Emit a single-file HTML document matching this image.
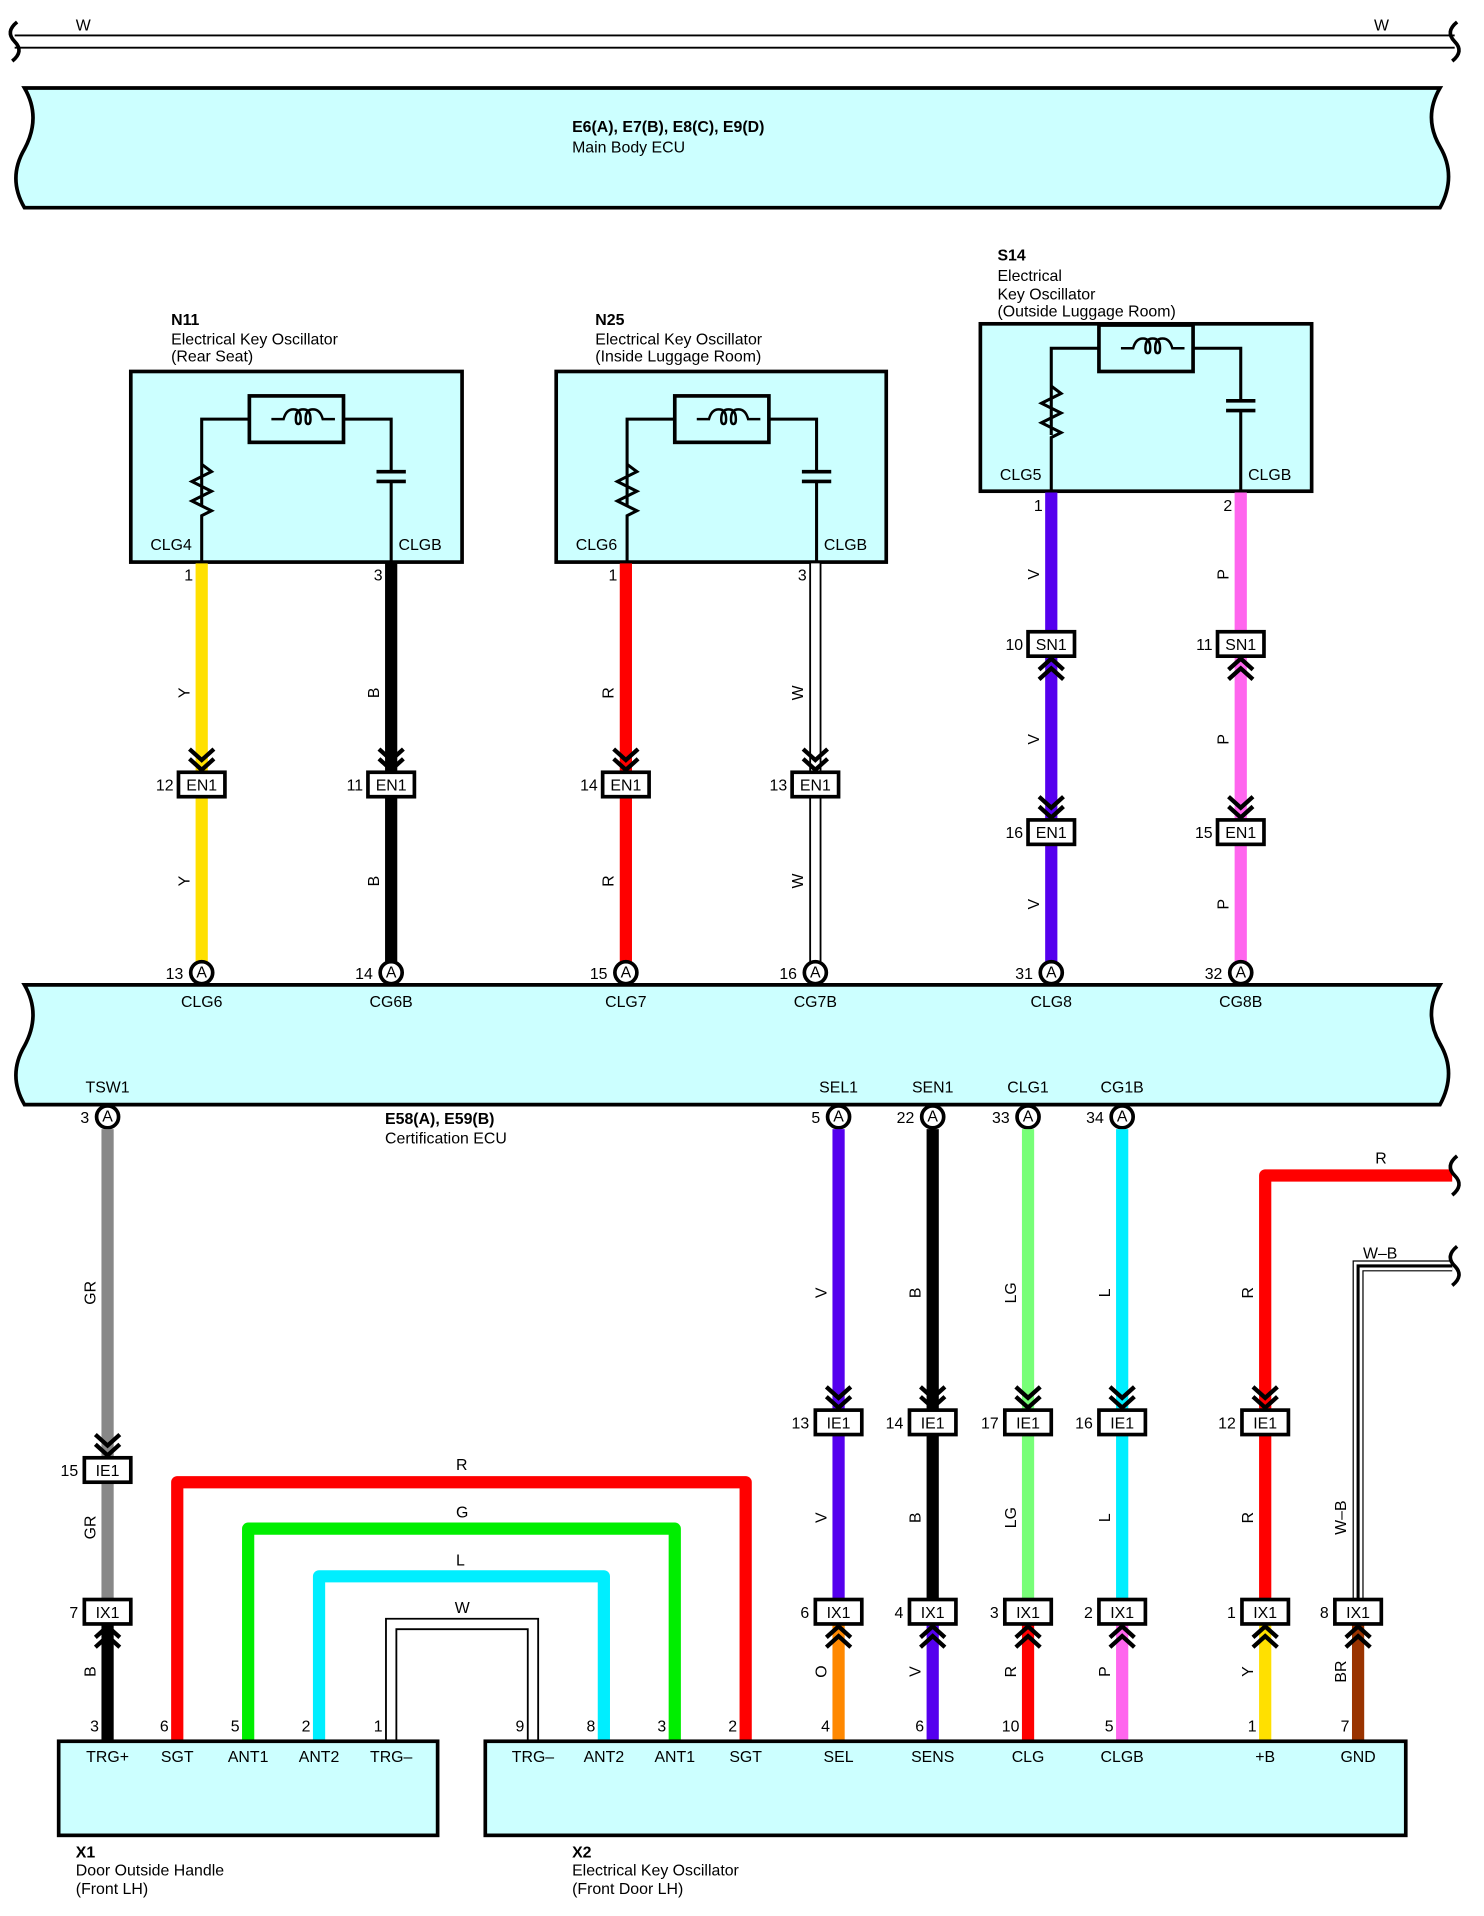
<!DOCTYPE html>
<html><head><meta charset="utf-8"><style>
html,body{margin:0;padding:0;background:#fff;}
svg{display:block;}
text{font-family:"Liberation Sans",sans-serif;font-size:13px;fill:#000;}
.b{font-weight:bold;}
</style></head><body>
<svg width="1484" height="1916" viewBox="0 0 1214 1568" preserveAspectRatio="none" xmlns="http://www.w3.org/2000/svg">
<defs>
<g id="cd" fill="none" stroke="#000" stroke-width="3.5"><polyline points="-10,-18 0,-9 10,-18"/><polyline points="-10,-10 0,-1 10,-10"/></g>
<g id="cu" fill="none" stroke="#000" stroke-width="3.5"><polyline points="-10,18 0,9 10,18"/><polyline points="-10,10 0,1 10,10"/></g>
<g id="osc" fill="none" stroke="#000" stroke-width="2.5">
<polyline points="58,110 58,39 97,39"/><rect x="97" y="20" width="77" height="38" stroke-width="3"/>
<polyline points="174,39 213,39 213,82"/><line x1="213" y1="90" x2="213" y2="156"/>
<line x1="201" y1="82" x2="225" y2="82" stroke-width="3"/><line x1="201" y1="90" x2="225" y2="90" stroke-width="3"/>
<path d="M115,39 h10 q2,-8 8,-8 q6,0 6,8 q0,4 -2,4 q-2,0 -2,-4 q0,-8 6,-8 q6,0 6,8 q0,4 -2,4 q-2,0 -2,-4 q0,-8 6,-8 q6,0 8,8 h10" stroke-width="2"/>
<polyline points="58,76 66,82 50,90 66,98 50,106 66,114 58,118 58,156"/>
</g>
</defs>

<line x1="12" y1="29" x2="1190" y2="29" stroke="#000" stroke-width="1.5"/>
<line x1="12" y1="39" x2="1190" y2="39" stroke="#000" stroke-width="1.5"/>
<path d="M14,18 q-10,8 -2,16 q8,8 -2,16" fill="none" stroke="#000" stroke-width="3"/>
<path d="M1192,18 q-10,8 -2,16 q8,8 -2,16" fill="none" stroke="#000" stroke-width="3"/>
<text x="62" y="25">W</text><text x="1124" y="25">W</text>

<path d="M20,72 H1178 q-14,24 0,48 q14,24 0,50 H20 q-14,-24 0,-48 q14,-26 0,-50 Z" fill="#ccffff" stroke="#000" stroke-width="3"/>
<text x="468" y="108" class="b">E6(A), E7(B), E8(C), E9(D)</text>
<text x="468" y="125">Main Body ECU</text>

<text x="140" y="266" class="b">N11</text><text x="140" y="282">Electrical Key Oscillator</text><text x="140" y="296">(Rear Seat)</text>
<rect x="107" y="304" width="271" height="156" fill="#ccffff" stroke="#000" stroke-width="3"/>
<use href="#osc" x="107" y="304"/>
<text x="123" y="450">CLG4</text><text x="326" y="450">CLGB</text>

<text x="487" y="266" class="b">N25</text><text x="487" y="282">Electrical Key Oscillator</text><text x="487" y="296">(Inside Luggage Room)</text>
<rect x="455" y="304" width="270" height="156" fill="#ccffff" stroke="#000" stroke-width="3"/>
<use href="#osc" x="455" y="304"/>
<text x="471" y="450">CLG6</text><text x="674" y="450">CLGB</text>

<text x="816" y="213" class="b">S14</text><text x="816" y="230">Electrical</text><text x="816" y="245">Key Oscillator</text><text x="816" y="259">(Outside Luggage Room)</text>
<rect x="802" y="265" width="271" height="137" fill="#ccffff" stroke="#000" stroke-width="3"/>
<g transform="translate(802,246)"><g fill="none" stroke="#000" stroke-width="2.5">
<polyline points="58,110 58,39 97,39"/><rect x="97" y="20" width="77" height="38" stroke-width="3"/>
<polyline points="174,39 213,39 213,82"/><line x1="213" y1="90" x2="213" y2="156"/>
<line x1="201" y1="82" x2="225" y2="82" stroke-width="3"/><line x1="201" y1="90" x2="225" y2="90" stroke-width="3"/>
<path d="M115,39 h10 q2,-8 8,-8 q6,0 6,8 q0,4 -2,4 q-2,0 -2,-4 q0,-8 6,-8 q6,0 6,8 q0,4 -2,4 q-2,0 -2,-4 q0,-8 6,-8 q6,0 8,8 h10" stroke-width="2"/>
<polyline points="58,70 66,76 50,84 66,92 50,100 66,108 58,112 58,156"/></g></g>
<text x="818" y="393">CLG5</text><text x="1021" y="393">CLGB</text>

<line x1="165" y1="461" x2="165" y2="790" stroke="#ffe000" stroke-width="10"/>
<line x1="320" y1="461" x2="320" y2="790" stroke="#000" stroke-width="10"/>
<line x1="512" y1="461" x2="512" y2="790" stroke="#ff0000" stroke-width="10"/>
<line x1="667" y1="461" x2="667" y2="790" stroke="#000" stroke-width="10"/>
<line x1="667" y1="461" x2="667" y2="790" stroke="#fff" stroke-width="7"/>
<line x1="860" y1="403" x2="860" y2="790" stroke="#5500ee" stroke-width="10"/>
<line x1="1015" y1="403" x2="1015" y2="790" stroke="#ff66ee" stroke-width="10"/>
<text x="158" y="475" text-anchor="end">1</text><text x="313" y="475" text-anchor="end">3</text>
<text x="505" y="475" text-anchor="end">1</text><text x="660" y="475" text-anchor="end">3</text>
<text x="853" y="418" text-anchor="end">1</text><text x="1008" y="418" text-anchor="end">2</text>
<g font-size="12">
<text transform="translate(155,567) rotate(-90)" text-anchor="middle">Y</text>
<text transform="translate(155,721) rotate(-90)" text-anchor="middle">Y</text>
<text transform="translate(310,567) rotate(-90)" text-anchor="middle">B</text>
<text transform="translate(310,721) rotate(-90)" text-anchor="middle">B</text>
<text transform="translate(502,567) rotate(-90)" text-anchor="middle">R</text>
<text transform="translate(502,721) rotate(-90)" text-anchor="middle">R</text>
<text transform="translate(657,567) rotate(-90)" text-anchor="middle">W</text>
<text transform="translate(657,721) rotate(-90)" text-anchor="middle">W</text>
<text transform="translate(850,470) rotate(-90)" text-anchor="middle">V</text>
<text transform="translate(850,605) rotate(-90)" text-anchor="middle">V</text>
<text transform="translate(850,740) rotate(-90)" text-anchor="middle">V</text>
<text transform="translate(1005,470) rotate(-90)" text-anchor="middle">P</text>
<text transform="translate(1005,605) rotate(-90)" text-anchor="middle">P</text>
<text transform="translate(1005,740) rotate(-90)" text-anchor="middle">P</text>
</g>
<g fill="#fff" stroke="#000" stroke-width="3">
<rect x="146" y="632" width="38" height="20"/><rect x="301" y="632" width="38" height="20"/>
<rect x="493" y="632" width="38" height="20"/><rect x="648" y="632" width="38" height="20"/>
<rect x="841" y="517" width="38" height="20"/><rect x="996" y="517" width="38" height="20"/>
<rect x="841" y="671" width="38" height="20"/><rect x="996" y="671" width="38" height="20"/>
</g>
<use href="#cd" x="165" y="631"/><use href="#cd" x="320" y="631"/><use href="#cd" x="512" y="631"/><use href="#cd" x="667" y="631"/>
<use href="#cu" x="860" y="538"/><use href="#cu" x="1015" y="538"/><use href="#cd" x="860" y="670"/><use href="#cd" x="1015" y="670"/>
<g text-anchor="middle">
<text x="165" y="647">EN1</text><text x="320" y="647">EN1</text><text x="512" y="647">EN1</text><text x="667" y="647">EN1</text>
<text x="860" y="532">SN1</text><text x="1015" y="532">SN1</text><text x="860" y="686">EN1</text><text x="1015" y="686">EN1</text>
</g>
<g text-anchor="end">
<text x="142" y="647">12</text><text x="297" y="647">11</text><text x="489" y="647">14</text><text x="644" y="647">13</text>
<text x="837" y="532">10</text><text x="992" y="532">11</text><text x="837" y="686">16</text><text x="992" y="686">15</text>
</g>

<path d="M20,806 H1178 q-14,24 0,48 q14,24 0,50 H20 q-14,-24 0,-48 q14,-26 0,-50 Z" fill="#ccffff" stroke="#000" stroke-width="3"/>
<g fill="#fff" stroke="#000" stroke-width="3">
<circle cx="165" cy="796" r="9"/><circle cx="320" cy="796" r="9"/><circle cx="512" cy="796" r="9"/><circle cx="667" cy="796" r="9"/><circle cx="860" cy="796" r="9"/><circle cx="1015" cy="796" r="9"/>
<circle cx="88" cy="914" r="9"/><circle cx="686" cy="914" r="9"/><circle cx="763" cy="914" r="9"/><circle cx="841" cy="914" r="9"/><circle cx="918" cy="914" r="9"/>
</g>
<g text-anchor="middle" font-size="11">
<text x="165" y="800">A</text><text x="320" y="800">A</text><text x="512" y="800">A</text><text x="667" y="800">A</text><text x="860" y="800">A</text><text x="1015" y="800">A</text>
<text x="88" y="918">A</text><text x="686" y="918">A</text><text x="763" y="918">A</text><text x="841" y="918">A</text><text x="918" y="918">A</text>
</g>
<g text-anchor="end">
<text x="150" y="801">13</text><text x="305" y="801">14</text><text x="497" y="801">15</text><text x="652" y="801">16</text><text x="845" y="801">31</text><text x="1000" y="801">32</text>
<text x="73" y="919">3</text><text x="671" y="919">5</text><text x="748" y="919">22</text><text x="826" y="919">33</text><text x="903" y="919">34</text>
</g>
<g text-anchor="middle">
<text x="165" y="824">CLG6</text><text x="320" y="824">CG6B</text><text x="512" y="824">CLG7</text><text x="667" y="824">CG7B</text><text x="860" y="824">CLG8</text><text x="1015" y="824">CG8B</text>
<text x="88" y="894">TSW1</text><text x="686" y="894">SEL1</text><text x="763" y="894">SEN1</text><text x="841" y="894">CLG1</text><text x="918" y="894">CG1B</text>
</g>
<text x="315" y="920" class="b">E58(A), E59(B)</text><text x="315" y="936">Certification ECU</text>

<line x1="88" y1="924" x2="88" y2="1310" stroke="#888" stroke-width="10"/>
<line x1="88" y1="1320" x2="88" y2="1425" stroke="#000" stroke-width="10"/>
<line x1="686" y1="924" x2="686" y2="1320" stroke="#5500ee" stroke-width="10"/>
<line x1="686" y1="1320" x2="686" y2="1425" stroke="#ff8800" stroke-width="10"/>
<line x1="763" y1="924" x2="763" y2="1320" stroke="#000" stroke-width="10"/>
<line x1="763" y1="1320" x2="763" y2="1425" stroke="#5500ee" stroke-width="10"/>
<line x1="841" y1="924" x2="841" y2="1320" stroke="#77ff77" stroke-width="10"/>
<line x1="841" y1="1320" x2="841" y2="1425" stroke="#ff0000" stroke-width="10"/>
<line x1="918" y1="924" x2="918" y2="1320" stroke="#00eeff" stroke-width="10"/>
<line x1="918" y1="1320" x2="918" y2="1425" stroke="#ff66ee" stroke-width="10"/>
<polyline points="1035,1320 1035,962 1188,962" fill="none" stroke="#ff0000" stroke-width="10" stroke-linejoin="round"/>
<line x1="1035" y1="1320" x2="1035" y2="1425" stroke="#ffe000" stroke-width="10"/>
<polyline points="1111,1320 1111,1036 1188,1036" fill="none" stroke="#000" stroke-width="9"/>
<polyline points="1111,1320 1111,1036 1188,1036" fill="none" stroke="#fff" stroke-width="7"/>
<polyline points="1111,1320 1111,1036 1188,1036" fill="none" stroke="#000" stroke-width="2.5"/>
<line x1="1111" y1="1320" x2="1111" y2="1425" stroke="#993300" stroke-width="10"/>
<path d="M1192,946 q-10,8 -2,16 q8,8 -2,16" fill="none" stroke="#000" stroke-width="3"/>
<path d="M1192,1020 q-10,8 -2,16 q8,8 -2,16" fill="none" stroke="#000" stroke-width="3"/>
<text x="1125" y="952">R</text><text x="1115" y="1030">W–B</text>

<polyline points="145,1425 145,1213 610,1213 610,1425" fill="none" stroke="#ff0000" stroke-width="10" stroke-linejoin="round"/>
<polyline points="203,1425 203,1251 552,1251 552,1425" fill="none" stroke="#00ee00" stroke-width="10" stroke-linejoin="round"/>
<polyline points="261,1425 261,1290 494,1290 494,1425" fill="none" stroke="#00eeff" stroke-width="10" stroke-linejoin="round"/>
<polyline points="320,1425 320,1329 436,1329 436,1425" fill="none" stroke="#000" stroke-width="10"/>
<polyline points="320,1425 320,1329 436,1329 436,1425" fill="none" stroke="#fff" stroke-width="7"/>
<text x="373" y="1203">R</text><text x="373" y="1242">G</text><text x="373" y="1281">L</text><text x="372" y="1320">W</text>

<g font-size="12">
<text transform="translate(78,1058) rotate(-90)" text-anchor="middle">GR</text>
<text transform="translate(78,1250) rotate(-90)" text-anchor="middle">GR</text>
<text transform="translate(78,1368) rotate(-90)" text-anchor="middle">B</text>
<text transform="translate(676,1058) rotate(-90)" text-anchor="middle">V</text>
<text transform="translate(676,1242) rotate(-90)" text-anchor="middle">V</text>
<text transform="translate(676,1368) rotate(-90)" text-anchor="middle">O</text>
<text transform="translate(753,1058) rotate(-90)" text-anchor="middle">B</text>
<text transform="translate(753,1242) rotate(-90)" text-anchor="middle">B</text>
<text transform="translate(753,1368) rotate(-90)" text-anchor="middle">V</text>
<text transform="translate(831,1058) rotate(-90)" text-anchor="middle">LG</text>
<text transform="translate(831,1242) rotate(-90)" text-anchor="middle">LG</text>
<text transform="translate(831,1368) rotate(-90)" text-anchor="middle">R</text>
<text transform="translate(908,1058) rotate(-90)" text-anchor="middle">L</text>
<text transform="translate(908,1242) rotate(-90)" text-anchor="middle">L</text>
<text transform="translate(908,1368) rotate(-90)" text-anchor="middle">P</text>
<text transform="translate(1025,1058) rotate(-90)" text-anchor="middle">R</text>
<text transform="translate(1025,1242) rotate(-90)" text-anchor="middle">R</text>
<text transform="translate(1025,1368) rotate(-90)" text-anchor="middle">Y</text>
<text transform="translate(1101,1242) rotate(-90)" text-anchor="middle">W–B</text>
<text transform="translate(1101,1368) rotate(-90)" text-anchor="middle">BR</text>
</g>

<g fill="#fff" stroke="#000" stroke-width="3">
<rect x="69" y="1193" width="38" height="20"/>
<rect x="667" y="1154" width="38" height="20"/><rect x="744" y="1154" width="38" height="20"/><rect x="822" y="1154" width="38" height="20"/><rect x="899" y="1154" width="38" height="20"/><rect x="1016" y="1154" width="38" height="20"/>
<rect x="69" y="1309" width="38" height="20"/><rect x="667" y="1309" width="38" height="20"/><rect x="744" y="1309" width="38" height="20"/><rect x="822" y="1309" width="38" height="20"/><rect x="899" y="1309" width="38" height="20"/><rect x="1016" y="1309" width="38" height="20"/><rect x="1092" y="1309" width="38" height="20"/>
</g>
<use href="#cd" x="88" y="1192"/><use href="#cd" x="686" y="1153"/><use href="#cd" x="763" y="1153"/><use href="#cd" x="841" y="1153"/><use href="#cd" x="918" y="1153"/><use href="#cd" x="1035" y="1153"/>
<use href="#cu" x="88" y="1330"/><use href="#cu" x="686" y="1330"/><use href="#cu" x="763" y="1330"/><use href="#cu" x="841" y="1330"/><use href="#cu" x="918" y="1330"/><use href="#cu" x="1035" y="1330"/><use href="#cu" x="1111" y="1330"/>
<g text-anchor="middle">
<text x="88" y="1208">IE1</text><text x="686" y="1169">IE1</text><text x="763" y="1169">IE1</text><text x="841" y="1169">IE1</text><text x="918" y="1169">IE1</text><text x="1035" y="1169">IE1</text>
<text x="88" y="1324">IX1</text><text x="686" y="1324">IX1</text><text x="763" y="1324">IX1</text><text x="841" y="1324">IX1</text><text x="918" y="1324">IX1</text><text x="1035" y="1324">IX1</text><text x="1111" y="1324">IX1</text>
</g>
<g text-anchor="end">
<text x="64" y="1208">15</text><text x="662" y="1169">13</text><text x="739" y="1169">14</text><text x="817" y="1169">17</text><text x="894" y="1169">16</text><text x="1011" y="1169">12</text>
<text x="64" y="1324">7</text><text x="662" y="1324">6</text><text x="739" y="1324">4</text><text x="817" y="1324">3</text><text x="894" y="1324">2</text><text x="1011" y="1324">1</text><text x="1087" y="1324">8</text>
</g>

<rect x="48" y="1425" width="310" height="77" fill="#ccffff" stroke="#000" stroke-width="3"/>
<rect x="397" y="1425" width="753" height="77" fill="#ccffff" stroke="#000" stroke-width="3"/>
<g text-anchor="end">
<text x="81" y="1417">3</text><text x="138" y="1417">6</text><text x="196" y="1417">5</text><text x="254" y="1417">2</text><text x="313" y="1417">1</text>
<text x="429" y="1417">9</text><text x="487" y="1417">8</text><text x="545" y="1417">3</text><text x="603" y="1417">2</text><text x="679" y="1417">4</text><text x="756" y="1417">6</text><text x="834" y="1417">10</text><text x="911" y="1417">5</text><text x="1028" y="1417">1</text><text x="1104" y="1417">7</text>
</g>
<g text-anchor="middle">
<text x="88" y="1442">TRG+</text><text x="145" y="1442">SGT</text><text x="203" y="1442">ANT1</text><text x="261" y="1442">ANT2</text><text x="320" y="1442">TRG–</text>
<text x="436" y="1442">TRG–</text><text x="494" y="1442">ANT2</text><text x="552" y="1442">ANT1</text><text x="610" y="1442">SGT</text><text x="686" y="1442">SEL</text><text x="763" y="1442">SENS</text><text x="841" y="1442">CLG</text><text x="918" y="1442">CLGB</text><text x="1035" y="1442">+B</text><text x="1111" y="1442">GND</text>
</g>
<text x="62" y="1520" class="b">X1</text><text x="62" y="1535">Door Outside Handle</text><text x="62" y="1550">(Front LH)</text>
<text x="468" y="1520" class="b">X2</text><text x="468" y="1535">Electrical Key Oscillator</text><text x="468" y="1550">(Front Door LH)</text>
</svg>
</body></html>
